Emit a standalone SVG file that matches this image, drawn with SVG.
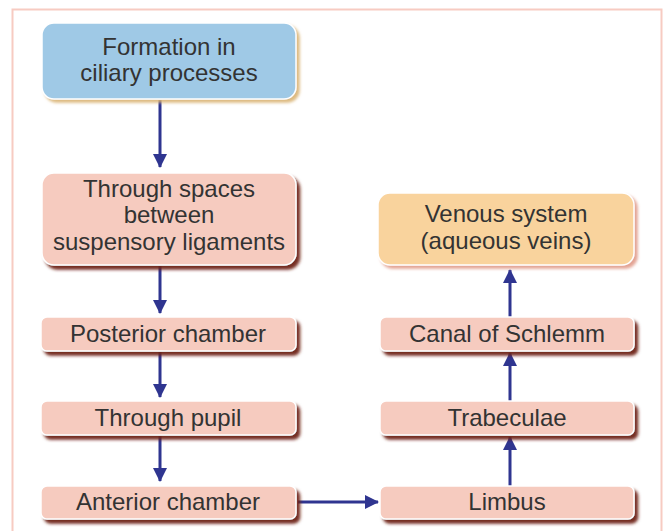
<svg xmlns="http://www.w3.org/2000/svg" width="666" height="531" viewBox="0 0 666 531">
<defs>
<style>
.t{font-family:"Liberation Sans",Arial,sans-serif;font-size:24px;fill:#333;text-anchor:middle}
.pink{fill:#f6cbbf;stroke:#fff;stroke-width:1.5}
.blue{fill:#9fc9e6;stroke:#fff;stroke-width:1.5}
.orange{fill:#f9d39d;stroke:#fff;stroke-width:1.5}
.c{stroke:#2f3590;stroke-width:3;fill:none}
</style>
<filter id="shR" x="-10%" y="-20%" width="130%" height="160%">
<feDropShadow dx="3.5" dy="4" stdDeviation="1.6" flood-color="#6e2416" flood-opacity="0.95"/>
</filter>
<filter id="shY" x="-10%" y="-20%" width="130%" height="160%">
<feDropShadow dx="3" dy="3" stdDeviation="1.5" flood-color="#d9b272" flood-opacity="0.9"/>
</filter>
<filter id="shO" x="-10%" y="-20%" width="130%" height="160%">
<feDropShadow dx="3" dy="3" stdDeviation="1.5" flood-color="#e09a88" flood-opacity="0.9"/>
</filter>
<marker id="ah" markerWidth="14" markerHeight="14" viewBox="0 0 14 14" refX="13" refY="7" orient="auto" markerUnits="userSpaceOnUse">
<path d="M0,0 L14,7 L0,14 z" fill="#2f3590"/>
</marker>
</defs>
<rect width="666" height="531" fill="#fff"/>
<path d="M12.5,531 V9.5 H661.5 V531" fill="none" stroke="#f7cbc2" stroke-width="2"/>
<g id="connectors">
<line class="c" x1="160" y1="100" x2="160" y2="167" marker-end="url(#ah)"/>
<line class="c" x1="160" y1="266" x2="160" y2="313" marker-end="url(#ah)"/>
<line class="c" x1="160" y1="352" x2="160" y2="397" marker-end="url(#ah)"/>
<line class="c" x1="160" y1="436" x2="160" y2="481" marker-end="url(#ah)"/>
<line class="c" x1="298" y1="502" x2="378" y2="502" marker-end="url(#ah)"/>
<line class="c" x1="510" y1="486" x2="510" y2="437" marker-end="url(#ah)"/>
<line class="c" x1="510" y1="401" x2="510" y2="353" marker-end="url(#ah)"/>
<line class="c" x1="510" y1="317" x2="510" y2="270" marker-end="url(#ah)"/>
</g>
<g id="formation">
<rect class="blue" x="42" y="23" width="254" height="76" rx="12" filter="url(#shY)"/>
<text class="t" x="169" y="55">Formation in</text>
<text class="t" x="169" y="81">ciliary processes</text>
</g>
<g id="spaces">
<rect class="pink" x="42" y="173" width="254" height="92" rx="12" filter="url(#shR)"/>
<text class="t" x="169" y="197">Through spaces</text>
<text class="t" x="169" y="223">between</text>
<text class="t" x="169" y="250">suspensory ligaments</text>
</g>
<g id="posterior">
<rect class="pink" x="41" y="317" width="255" height="34" rx="6" filter="url(#shR)"/>
<text class="t" x="168" y="342">Posterior chamber</text>
</g>
<g id="pupil">
<rect class="pink" x="41" y="401" width="255" height="34" rx="6" filter="url(#shR)"/>
<text class="t" x="168" y="426">Through pupil</text>
</g>
<g id="anterior">
<rect class="pink" x="41" y="486" width="255" height="33" rx="6" filter="url(#shR)"/>
<text class="t" x="168" y="510">Anterior chamber</text>
</g>
<g id="limbus">
<rect class="pink" x="380" y="486" width="254" height="33" rx="6" filter="url(#shR)"/>
<text class="t" x="507" y="510">Limbus</text>
</g>
<g id="trabeculae">
<rect class="pink" x="380" y="401" width="254" height="34" rx="6" filter="url(#shR)"/>
<text class="t" x="507" y="426">Trabeculae</text>
</g>
<g id="schlemm">
<rect class="pink" x="380" y="317" width="254" height="34" rx="6" filter="url(#shR)"/>
<text class="t" x="507" y="342">Canal of Schlemm</text>
</g>
<g id="venous">
<rect class="orange" x="378" y="193" width="256" height="72" rx="12" filter="url(#shO)"/>
<text class="t" x="506" y="222">Venous system</text>
<text class="t" x="506" y="249">(aqueous veins)</text>
</g>
</svg>
